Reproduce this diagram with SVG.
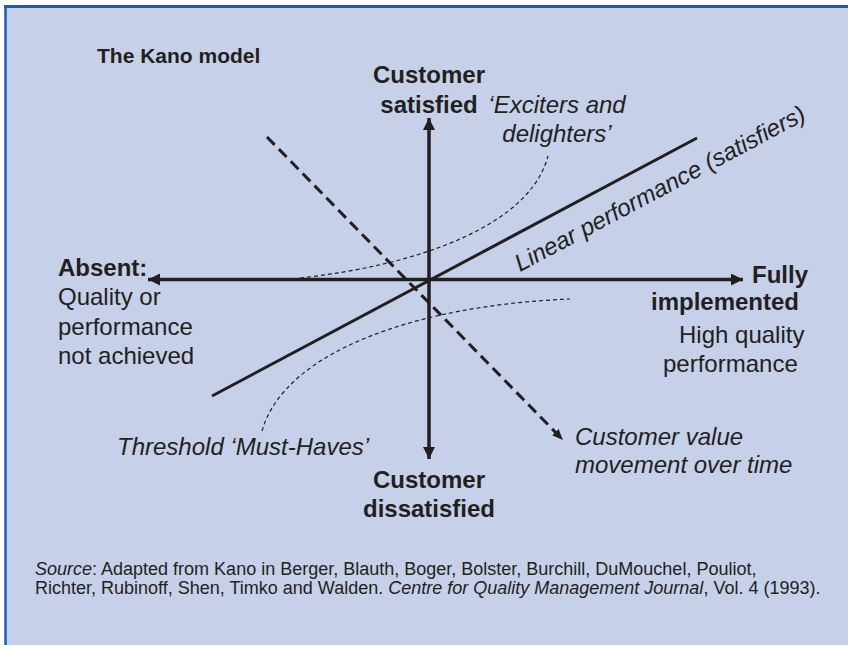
<svg xmlns="http://www.w3.org/2000/svg" width="848" height="645" viewBox="0 0 848 645">
<style>
text{font-family:"Liberation Sans",Arial,sans-serif;fill:#231f20}
.b{font-weight:bold;font-size:24px}
.r{font-size:24px}
.i{font-style:italic;font-size:24px}
.s{font-size:18px}
.axis{stroke:#231f20;stroke-width:3.5;fill:none}
.lin{stroke:#231f20;stroke-width:3;fill:none}
.dash{stroke:#231f20;stroke-width:3;fill:none;stroke-dasharray:11 6}
.dot{stroke:#231f20;stroke-width:1.2;fill:none;stroke-dasharray:4 3}
</style>
<defs>
<marker id="ah" markerUnits="userSpaceOnUse" markerWidth="12" markerHeight="12" refX="12" refY="6" orient="auto-start-reverse" viewBox="0 0 12 12">
<path d="M0,0 L12,6 L0,12 z" fill="#231f20"/>
</marker>
<marker id="dh" markerUnits="userSpaceOnUse" markerWidth="11" markerHeight="9" refX="11" refY="4.5" orient="auto" viewBox="0 0 11 9">
<path d="M0,0 L11,4.5 L0,9 z" fill="#231f20"/>
</marker>
</defs>
<rect x="0" y="0" width="848" height="645" fill="#ffffff"/>
<rect x="5" y="6" width="843" height="639" fill="#c6d0e8"/>
<line x1="4" y1="6.5" x2="848" y2="6.5" stroke="#1a5eb0" stroke-width="3"/>
<line x1="5.5" y1="5" x2="5.5" y2="645" stroke="#1a5eb0" stroke-width="2.5"/>

<g id="connectors">
<path class="dot" d="M300,278 C420,265 530,225 548,156"/>
<path class="dot" d="M262,431 C285,350 420,305 570,299"/>
<path class="lin" d="M212,396 L697,138"/>
<path class="dash" d="M267,137 L563,440" marker-end="url(#dh)"/>
<path class="axis" d="M148,279.5 L743,279.5" marker-start="url(#ah)" marker-end="url(#ah)"/>
<path class="axis" d="M429,459 L429,118" marker-start="url(#ah)" marker-end="url(#ah)"/>
</g>

<g id="title"><text x="97" y="63" font-weight="bold" font-size="21">The Kano model</text></g>
<g id="satisfied"><text class="b" x="429" y="83" text-anchor="middle">Customer</text><text class="b" x="429" y="113" text-anchor="middle">satisfied</text></g>
<g id="exciters"><text class="i" x="557" y="113" text-anchor="middle">‘Exciters and</text><text class="i" x="557" y="142" text-anchor="middle">delighters’</text></g>
<g id="linear"><text class="i" x="520" y="272" transform="rotate(-28 520 272)">Linear performance (satisfiers)</text></g>
<g id="absent"><text class="b" x="58" y="276">Absent:</text><text class="r" x="58" y="305">Quality or</text><text class="r" x="58" y="335">performance</text><text class="r" x="58" y="364">not achieved</text></g>
<g id="fully"><text class="b" x="752" y="283">Fully</text><text class="b" x="651" y="310">implemented</text><text class="r" x="679" y="343">High quality</text><text class="r" x="663" y="372">performance</text></g>
<g id="threshold"><text class="i" x="117" y="455">Threshold ‘Must-Haves’</text></g>
<g id="movement"><text class="i" x="575" y="445">Customer value</text><text class="i" x="575" y="473">movement over time</text></g>
<g id="dissatisfied"><text class="b" x="429" y="488" text-anchor="middle">Customer</text><text class="b" x="429" y="517" text-anchor="middle">dissatisfied</text></g>
<g id="source">
<text class="s" x="35" y="575"><tspan font-style="italic">Source</tspan>: Adapted from Kano in Berger, Blauth, Boger, Bolster, Burchill, DuMouchel, Pouliot,</text>
<text class="s" x="35" y="594">Richter, Rubinoff, Shen, Timko and Walden. <tspan font-style="italic">Centre for Quality Management Journal</tspan>, Vol. 4 (1993).</text>
</g>
</svg>
